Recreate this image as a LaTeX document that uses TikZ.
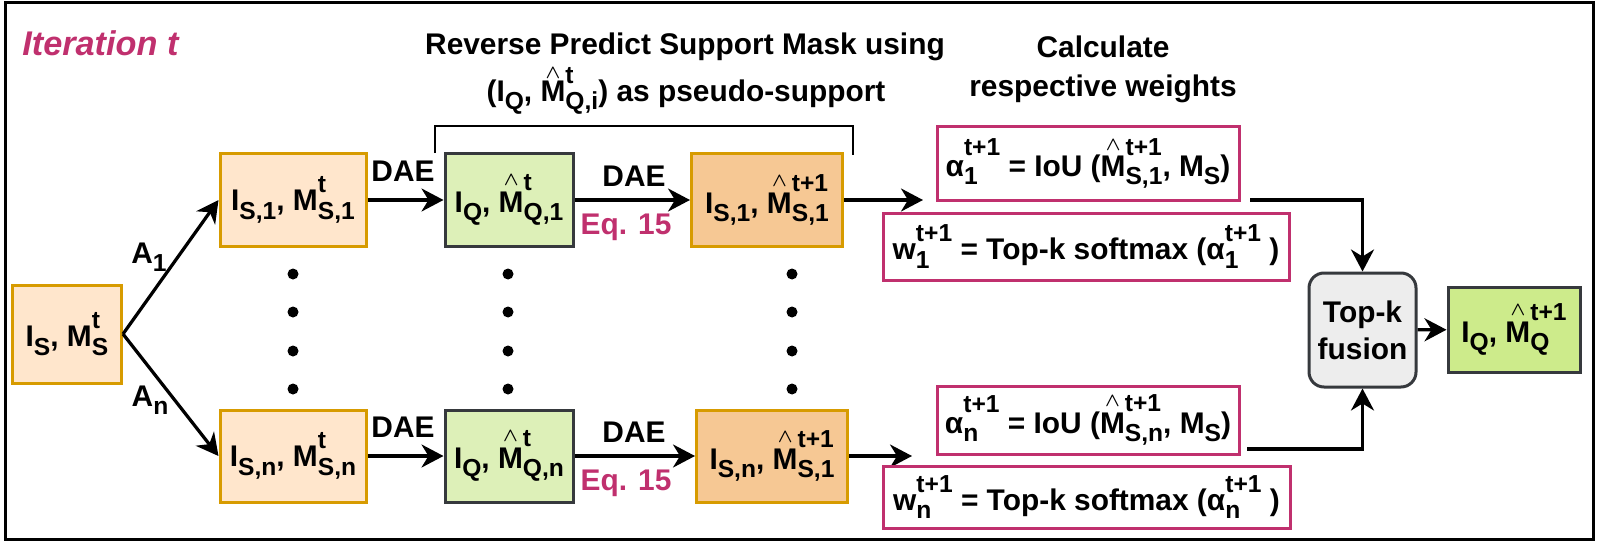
\documentclass[tikz,border=0pt]{standalone}
\usepackage{fontspec}
\setmainfont{Liberation Sans}
\usetikzlibrary{arrows.meta}

\definecolor{mag}{HTML}{C0306E}
\definecolor{srcfill}{HTML}{FFE6CC}
\definecolor{srcline}{HTML}{D79B00}
\definecolor{revfill}{HTML}{F6C894}
\definecolor{qfill}{HTML}{DDF0B8}
\definecolor{finfill}{HTML}{CDEB8B}
\definecolor{darkline}{HTML}{36393D}

% base, subscript, superscript
\newcommand{\scrf}{\fontsize{14}{14}\selectfont}
\newcommand{\lsub}[2]{#1\raisebox{-0.28em}{\scrf #2}}
\newcommand{\lsubsup}[4][0.6em]{#2\ooalign{\raisebox{#1}{\scrf #4}\cr\raisebox{-0.28em}{\scrf #3}\cr}}
\newcommand{\lhat}[4][0.88em]{\ooalign{#2\cr\hidewidth\raisebox{#1}{\fontsize{11}{11}\selectfont\boldmath$\wedge$}\hidewidth\cr}%
  \ooalign{\raisebox{\dimexpr#1-0.16em\relax}{\scrf #4}\cr\raisebox{-0.28em}{\scrf #3}\cr}}

\tikzset{
  lbl/.style={font=\fontsize{17}{21}\selectfont\bfseries, inner sep=0pt, align=center},
  iter/.style={font=\fontsize{19.5}{23}\selectfont\bfseries\itshape, text=mag, inner sep=0pt},
  box/.style={lbl, draw, line width=0.6mm, minimum height=18.4mm},
  srcbox/.style={box, draw=srcline, fill=srcfill, minimum width=29.2mm},
  qbox/.style={box, draw=darkline, fill=qfill, minimum width=25.6mm},
  rbox/.style={box, draw=srcline, fill=revfill, minimum width=30.2mm},
  wbox/.style={lbl, draw=mag, line width=0.6mm},
  arr/.style={line width=0.65mm, -{Stealth[length=4.4mm,width=4.6mm,inset=1.4mm]}}
}

\begin{document}
\begin{tikzpicture}[x=0.2mm,y=-0.2mm]
\useasboundingbox (0,0) rectangle (1600,545);
\draw[line width=0.6mm] (5,3) rectangle (1593,539);

% headings
\node[iter, anchor=base west] (iter) at (22,56) {Iteration t};
\node[lbl, anchor=base] (title1) at (685,55) {Reverse Predict Support Mask using};
\node[lbl, anchor=base] (title2) at (686,101) {(\lsub{I}{Q}, \lhat[0.76em]{M}{Q,i}{t}) as pseudo-support};
\node[lbl, anchor=base] (calc1) at (1103,58) {Calculate};
\node[lbl, anchor=base] (calc2) at (1103,97) {respective weights};
\draw[line width=0.3mm] (435,153) |- (853,126) -- (853,155);

% support set
\node[srcbox, minimum width=21.8mm, minimum height=19.6mm] (is) at (67,334) {\lsub{I}{S}, \lsubsup{M}{S}{t}};
\node[lbl] (a1) at (149,257) {\lsub{A}{1}};
\node[lbl] (an) at (150,400) {\lsub{A}{n}};

% the two rows
\foreach \i/\y/\rx in {1/200/767,n/456/772}{
  \node[srcbox] (s\i) at (293,\y) {\lsub{I}{S,\i}, \lsubsup{M}{S,\i}{t}};
  \node[qbox] (q\i) at (509,\y) {\lsub{I}{Q}, \lhat{M}{Q,\i}{t}};
  \node[rbox] (r\i) at (\rx,\y) {\lsub{I}{S,\i}, \lhat{M}{S,1}{t+1}};
  \draw[arr] (is.east) -- (s\i.west);
  \draw[arr] (s\i) -- (q\i);
  \draw[arr] (q\i) -- (r\i);
  \node[lbl] (daes\i) at (403,{\y-29}) {DAE};
  \node[lbl] (daeq\i) at (634,{\y-24}) {DAE};
  \node[lbl, text=mag] (eq\i) at (626,{\y+27}) {Eq. 15};
}

% dots
\foreach \x in {293,508,792}
  \foreach \y in {274,312,351,389}
    \fill (\x,\y) circle (1.1mm);

\coordinate (r1end) at (923,200);
\coordinate (rnend) at (912,456);
\draw[arr] (r1) -- (r1end);
\draw[arr] (rn) -- (rnend);

% weights
\node[wbox, minimum width=60.4mm, minimum height=14.6mm] (alpha1) at (1088,163.5) {\lsubsup[0.7em]{α}{1}{t+1} = IoU (\lhat{M}{S,1}{t+1}, \lsub{M}{S})};
\node[wbox, minimum width=81.2mm, minimum height=13.4mm] (w1) at (1086,246.5) {\lsubsup{w}{1}{t+1} = Top-k softmax (\lsubsup{α}{1}{t+1} )};
\node[wbox, minimum width=60.4mm, minimum height=13.6mm] (alphan) at (1088,420) {\lsubsup[0.7em]{α}{n}{t+1} = IoU (\lhat{M}{S,n}{t+1}, \lsub{M}{S})};
\node[wbox, minimum width=81.4mm, minimum height=12.4mm] (wn) at (1086.5,497) {\lsubsup{w}{n}{t+1} = Top-k softmax (\lsubsup{α}{n}{t+1} )};

% fusion
\node[lbl, draw=darkline, fill=black!7, line width=0.6mm, rounded corners=3mm, minimum width=21.4mm, minimum height=22.8mm] (topk) at (1362.5,330) {Top-k\\fusion};
\node[box, draw=darkline, fill=finfill, minimum width=26.4mm, minimum height=17mm] (final) at (1514,329.5) {\lsub{I}{Q}, \lhat{M}{Q}{t+1}};
\coordinate (a1out) at (1250,200);
\coordinate (anout) at (1247,449);
\draw[arr] (a1out) -| (topk.north);
\draw[arr] (anout) -| (topk.south);
\draw[arr] (topk) -- (final);

\end{tikzpicture}
\end{document}
